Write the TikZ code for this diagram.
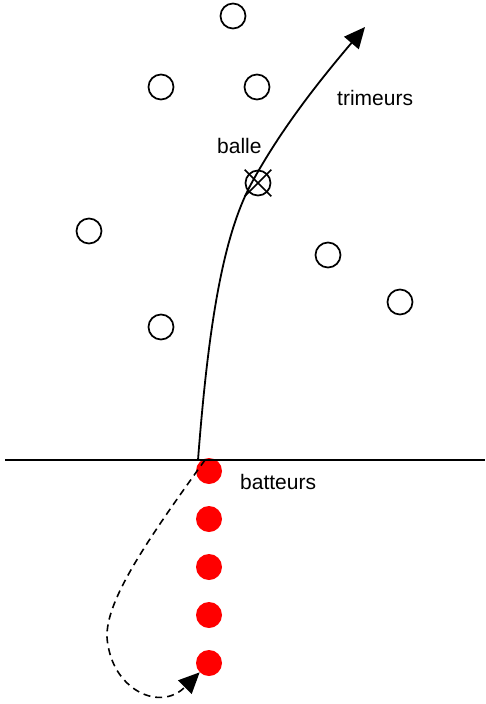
\documentclass[tikz,border=0pt]{standalone}
\usepackage{fontspec}
\setmainfont{Liberation Sans}
\usetikzlibrary{arrows.meta,shapes.misc}
\begin{document}
\begin{tikzpicture}[x=1pt,y=-1pt,
  fielder/.style={circle,draw,line width=1.7pt,minimum size=25pt,inner sep=0},
  batter/.style={circle,fill=red,minimum size=26pt,inner sep=0},
  lbl/.style={anchor=base west,inner sep=0,font=\fontsize{21}{24}\selectfont},
  tip/.style={-{Triangle[length=21pt,width=19pt]}}]
\useasboundingbox (0,0) rectangle (486,704);
\node[fielder] (f1) at (233,16) {};
\node[fielder] (f2) at (161,87) {};
\node[fielder] (f3) at (257,87) {};
\node[fielder] (f4) at (89,231) {};
\node[fielder] (f5) at (328,255) {};
\node[fielder] (f6) at (400,302) {};
\node[fielder] (f7) at (161,327) {};
\node[fielder] (ball) at (258,183) {};
\node[cross out,draw,line width=1.7pt,minimum size=25pt,inner sep=0] (bx) at (258,183) {};
\node[batter] (b1) at (209,471) {};
\node[batter] (b2) at (209,519) {};
\node[batter] (b3) at (209,567) {};
\node[batter] (b4) at (209,615) {};
\node[batter] (b5) at (209,663) {};
\coordinate (lineL) at (5,460);
\coordinate (lineR) at (485,460);
\draw[line width=1.6pt] (lineL) -- (lineR);
\coordinate (hit) at (198,460);
\coordinate (far) at (365,27);
\coordinate (run) at (205,460);
\draw[line width=1.8pt,tip] (hit) .. controls (208,330) and (222,240) .. (250,186)
  .. controls (280,130) and (320,80) .. (far);
\draw[line width=1.6pt,dash pattern=on 7pt off 5pt,tip] (run) .. controls (140,550) and (100,610) .. (108,645)
  .. controls (115,690) and (160,712) .. (b5.south west);
\node[lbl] (t1) at (337,105) {trimeurs};
\node[lbl] (t2) at (217,153) {balle};
\node[lbl] (t3) at (240,489) {batteurs};
\end{tikzpicture}
\end{document}
